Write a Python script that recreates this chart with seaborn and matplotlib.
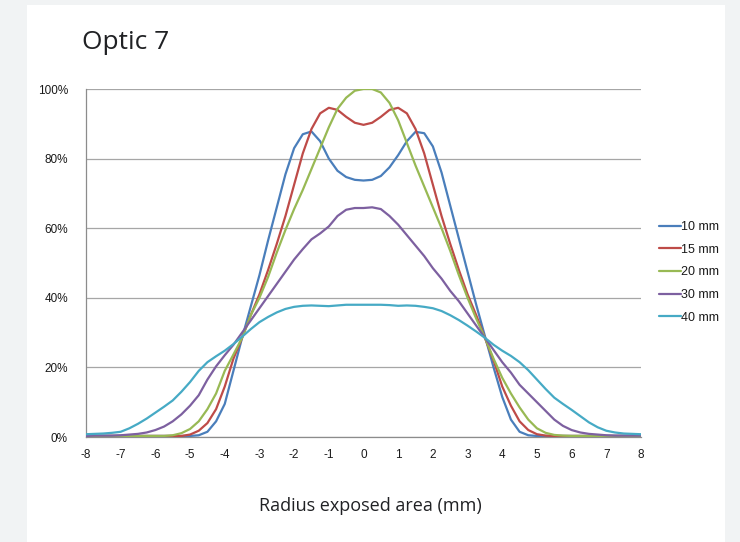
import matplotlib
matplotlib.use('Agg')
import matplotlib.pyplot as plt
from matplotlib.patches import Rectangle
from matplotlib.ticker import PercentFormatter
import seaborn as sns
import pandas as pd
import numpy as np

# radius in mm, 0.25 mm steps from -8 to 8 (65 points)
radius = np.arange(-8, 8.001, 0.25)

# values (percent), 8 per row, centre value on its own row
mm10 = [0.3, 0.3, 0.3, 0.3, 0.3, 0.3, 0.3, 0.3,
        0.3, 0.3, 0.3, 0.3, 0.3, 0.5, 1.5, 4.5,
        9.5, 19, 28.5, 37.5, 46.5, 56.5, 66, 75.5,
        83, 87, 87.8, 85, 80, 76.5, 74.7, 73.9,
        73.7,
        73.9, 75, 77.5, 81, 85, 87.7, 87.3, 83.5,
        76, 66.5, 57, 47.5, 38, 29, 20, 11.5,
        5, 1.5, 0.5, 0.3, 0.3, 0.3, 0.3, 0.3,
        0.3, 0.3, 0.3, 0.3, 0.3, 0.3, 0.3, 0.3]
mm15 = [0.3, 0.3, 0.3, 0.3, 0.3, 0.3, 0.3, 0.3,
        0.3, 0.3, 0.3, 0.3, 0.7, 1.8, 4, 8,
        14.5, 22.5, 28.5, 35, 41, 48, 55.5, 63.5,
        72.5, 81.5, 88.5, 93, 94.6, 94, 92, 90.3,
        89.7,
        90.3, 92, 94, 94.6, 93, 88.5, 81.5, 72.5,
        63.5, 55.5, 48, 41, 35, 28.5, 22, 14.5,
        9, 4.5, 2, 0.8, 0.4, 0.3, 0.3, 0.3,
        0.3, 0.3, 0.3, 0.3, 0.3, 0.3, 0.3, 0.3]
mm20 = [0.3, 0.3, 0.3, 0.3, 0.3, 0.3, 0.3, 0.3,
        0.3, 0.3, 0.5, 1.1, 2.3, 4.5, 8, 12.5,
        19, 23.7, 28.5, 35, 40, 46, 53, 59.5,
        65.5, 71, 77, 83, 89, 94.3, 97.5, 99.5,
        100,
        100, 99, 96, 91, 84.5, 78, 72, 66,
        60, 53.5, 46.5, 40, 34, 28.5, 22.5, 17,
        12.5, 8.5, 5, 2.5, 1.2, 0.6, 0.4, 0.3,
        0.3, 0.3, 0.3, 0.3, 0.3, 0.3, 0.3, 0.3]
mm30 = [0.3, 0.4, 0.4, 0.4, 0.5, 0.7, 0.9, 1.3,
        2, 3, 4.5, 6.5, 9, 12, 16.5, 20.3,
        23.5, 26.5, 30, 33.5, 37, 40.5, 44, 47.5,
        51, 54, 56.8, 58.5, 60.5, 63.5, 65.3, 65.8,
        65.8,
        66, 65.5, 63.5, 61, 58, 55, 52, 48.5,
        45.5, 42, 39, 35.5, 32, 28.5, 25, 21.5,
        18.5, 15, 12.5, 10, 7.5, 5, 3.2, 2,
        1.3, 0.9, 0.7, 0.5, 0.4, 0.4, 0.4, 0.4]
mm40 = [0.8, 0.9, 1, 1.2, 1.5, 2.5, 3.8, 5.3,
        7, 8.7, 10.5, 13, 15.8, 19, 21.5, 23.2,
        24.8, 26.7, 28.8, 31, 33, 34.5, 35.8, 36.8,
        37.4, 37.7, 37.8, 37.7, 37.6, 37.8, 38, 38,
        38,
        38, 38, 37.9, 37.7, 37.8, 37.7, 37.4, 37,
        36.2, 35, 33.6, 32, 30.3, 28.5, 26.5, 24.8,
        23.3, 21.5, 19.2, 16.5, 13.8, 11.3, 9.5, 7.8,
        6, 4.2, 2.8, 1.8, 1.3, 1, 0.9, 0.8]

series_names = ['10 mm', '15 mm', '20 mm', '30 mm', '40 mm']
colors = ['#4A7EBB', '#BE4B48', '#98B954', '#7D60A0', '#46AAC5']

df = pd.concat([
    pd.DataFrame({'radius': radius, 'value': vals, 'series': name})
    for name, vals in zip(series_names, [mm10, mm15, mm20, mm30, mm40])
])

sns.set_style('white')
plt.rcParams['font.family'] = ['Open Sans', 'DejaVu Sans']
plt.rcParams['axes.unicode_minus'] = False

fig = plt.figure(figsize=(7.4, 5.42), dpi=100)
fig.patch.set_facecolor('#f1f3f4')
# white card behind the chart
fig.patches.append(Rectangle((27 / 740, 0), (725 - 27) / 740, 537 / 542,
                             transform=fig.transFigure, facecolor='white',
                             edgecolor='none', zorder=-10))

ax = fig.add_axes([86 / 740, 105 / 542, 555 / 740, 348 / 542])
ax.set_facecolor('none')

sns.lineplot(data=df, x='radius', y='value', hue='series',
             palette=colors, linewidth=1.6, ax=ax, legend=True, zorder=3)

ax.set_xlim(-8, 8)
ax.set_ylim(0, 100)
ax.set_xticks(range(-8, 9))
ax.set_yticks(range(0, 101, 20))
ax.yaxis.set_major_formatter(PercentFormatter(decimals=0))
ax.grid(axis='y', color='#a6a6a6', linewidth=0.9)
ax.grid(axis='x', visible=False)
for side in ['top', 'right']:
    ax.spines[side].set_visible(False)
for side in ['left', 'bottom']:
    ax.spines[side].set_color('#8c8c8c')
    ax.spines[side].set_linewidth(0.9)
ax.tick_params(axis='x', direction='out', length=4, width=0.8,
               color='#8c8c8c', labelsize=8.5, pad=5, labelcolor='#1a1a1a')
ax.tick_params(axis='y', length=0, labelsize=8.5, pad=13, labelcolor='#1a1a1a')
for lbl in ax.get_xticklabels() + ax.get_yticklabels():
    lbl.set_family(['Liberation Sans', 'DejaVu Sans'])
ax.set_xlabel('')
ax.set_ylabel('')

fig.text(82 / 740, 1 - 42 / 542, 'Optic 7', fontsize=19, va='center',
         ha='left', color='#202124')
fig.text(370 / 740, 1 - 506 / 542, 'Radius exposed area (mm)', fontsize=13,
         va='center', ha='center', color='#202124')

leg = ax.legend(loc='center left', bbox_to_anchor=(1.032, 0.473),
                frameon=False, borderpad=0, borderaxespad=0,
                handlelength=1.75, handletextpad=0.05, labelspacing=0.85,
                prop={'family': 'Liberation Sans', 'size': 9})
for txt in leg.get_texts():
    txt.set_color('#1a1a1a')

fig.savefig('out.png', dpi=100)
